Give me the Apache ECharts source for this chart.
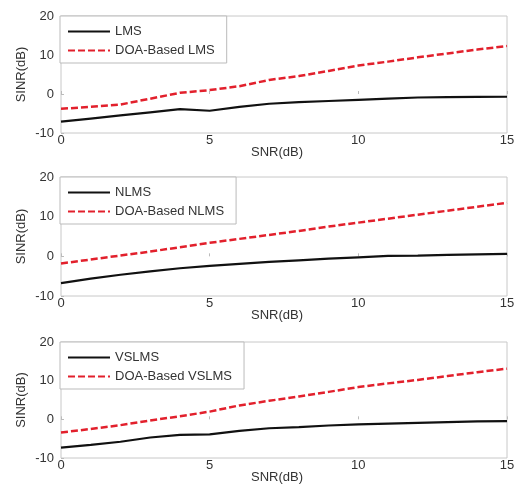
<!DOCTYPE html>
<html>
<head>
<meta charset="utf-8">
<script src="https://cdn.jsdelivr.net/npm/echarts@6/dist/echarts.min.js"></script>
<style>
html,body{margin:0;padding:0;background:#fff;}
#chart{width:519px;height:485px;}
</style>
</head>
<body>
<div id="chart"></div>
<script>
var snr = [0,1,2,3,4,5,6,7,8,9,10,11,12,13,14,15];
var xTicks = [0,5,10,15];
var yTicks = [-10,0,10,20];

var lms      = [-7.1,-6.3,-5.5,-4.7,-3.9,-4.3,-3.3,-2.5,-2.1,-1.8,-1.5,-1.2,-0.9,-0.8,-0.75,-0.7];
var doaLms   = [-3.8,-3.3,-2.7,-1.2,0.3,1.0,2.0,3.6,4.6,5.9,7.3,8.3,9.4,10.4,11.4,12.3];
var nlms     = [-6.75,-5.6,-4.65,-3.8,-3.0,-2.4,-1.9,-1.4,-1.0,-0.6,-0.25,0.1,0.2,0.35,0.5,0.6];
var doaNlms  = [-1.8,-0.8,0.2,1.2,2.3,3.4,4.4,5.4,6.4,7.5,8.5,9.5,10.5,11.5,12.5,13.5];
var vslms    = [-7.3,-6.6,-5.8,-4.7,-4.0,-3.9,-3.0,-2.3,-2.0,-1.6,-1.3,-1.1,-0.9,-0.7,-0.55,-0.45];
var doaVslms = [-3.4,-2.5,-1.5,-0.3,0.8,2.0,3.6,4.8,5.9,7.1,8.35,9.3,10.2,11.2,12.2,13.1];

var panels = [
  {names:['LMS','DOA-Based LMS'], a:lms, b:doaLms},
  {names:['NLMS','DOA-Based NLMS'], a:nlms, b:doaNlms},
  {names:['VSLMS','DOA-Based VSLMS'], a:vslms, b:doaVslms}
];
var gridTops = [16,177,342];
var gridHeights = [117,119,116];
var FONT = 'Liberation Sans';

function pairs(arr){ return snr.map(function(x,i){ return [x, arr[i]]; }); }

var grids=[], xAxes=[], yAxes=[], series=[], legends=[];
panels.forEach(function(p,k){
  grids.push({left:61, width:446, top:gridTops[k], height:gridHeights[k], show:true, borderColor:'#c8c8c8', borderWidth:1, backgroundColor:'#fff'});
  xAxes.push({type:'value', gridIndex:k, min:xTicks[0], max:xTicks[xTicks.length-1], interval:xTicks[1]-xTicks[0],
    name:'SNR(dB)', nameLocation:'middle', nameGap:13, nameMoveOverlap:false,
    nameTextStyle:{fontFamily:FONT,fontSize:13,color:'#333',padding:[0,14,0,0]},
    axisLine:{show:false}, splitLine:{show:false},
    axisTick:{show:true,inside:true,length:3,lineStyle:{color:'#bbb'}},
    axisLabel:{fontFamily:FONT,fontSize:13,color:'#333',margin:1}});
  yAxes.push({type:'value', gridIndex:k, min:yTicks[0], max:yTicks[yTicks.length-1], interval:yTicks[1]-yTicks[0],
    name:'SINR(dB)', nameLocation:'middle', nameGap:33, nameMoveOverlap:false,
    nameTextStyle:{fontFamily:FONT,fontSize:13,color:'#333'},
    axisLine:{show:false}, splitLine:{show:false},
    axisTick:{show:true,inside:true,length:3,lineStyle:{color:'#bbb'}},
    axisLabel:{fontFamily:FONT,fontSize:13,color:'#333',margin:7}});
  series.push({name:p.names[0], type:'line', xAxisIndex:k, yAxisIndex:k, data:pairs(p.a),
    symbol:'none', smooth:false, lineStyle:{color:'#111',width:2.2}, itemStyle:{color:'#111'}, z:3, animation:false});
  series.push({name:p.names[1], type:'line', xAxisIndex:k, yAxisIndex:k, data:pairs(p.b),
    symbol:'none', smooth:false, lineStyle:{color:'#e2202c',width:2.5,type:[7,3]}, itemStyle:{color:'#e2202c'}, z:4, animation:false});
  legends.push({data:p.names, left:60, top:gridTops[k], orient:'vertical',
    backgroundColor:'#fff', borderColor:'#bbb', borderWidth:1, borderRadius:0,
    padding:[9,12,6,7], itemGap:6, itemWidth:42, itemHeight:14,
    itemStyle:{opacity:0},
    textStyle:{fontFamily:FONT,fontSize:13,color:'#333'}});
});

var chart = echarts.init(document.getElementById('chart'), null, {renderer:'canvas'});
chart.setOption({
  animation:false,
  backgroundColor:'#fff',
  grid:grids, xAxis:xAxes, yAxis:yAxes, series:series, legend:legends
});
</script>
</body>
</html>
